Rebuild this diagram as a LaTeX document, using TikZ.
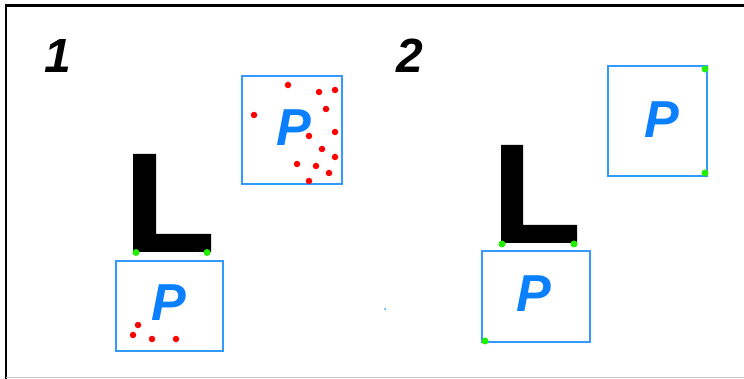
\documentclass[tikz,border=0pt]{standalone}
\usepackage{fontspec}
\setmainfont{Liberation Sans}
\definecolor{boxblue}{HTML}{3399FF}
\definecolor{pblue}{HTML}{0A80FF}
\definecolor{dotred}{HTML}{FF0000}
\definecolor{dotgreen}{HTML}{22EE00}
\tikzset{
  pbox/.style={draw=boxblue, line width=1.8pt, fill=none, inner sep=0pt},
  pletter/.style={text=pblue, inner sep=0pt, font=\fontsize{52}{52}\selectfont\bfseries\itshape},
  numlabel/.style={text=black, inner sep=0pt, font=\fontsize{48}{48}\selectfont\bfseries\itshape},
  reddot/.style={circle, fill=dotred, inner sep=0pt, minimum size=6.5pt},
  greendot/.style={circle, fill=dotgreen, inner sep=0pt, minimum size=7pt},
  lshape/.style={fill=black, draw=none}
}
\begin{document}
\begin{tikzpicture}[x=1pt,y=-1pt]
\useasboundingbox (0,0) rectangle (744,379);
\fill[white] (0,0) rectangle (744,379);
% frame
\draw[black, line width=2.6pt] (5,5.5) -- (744,5.5);
\draw[black, line width=1.8pt] (6,5) -- (6,379);
\draw[black!22, line width=1pt] (6,377.5) -- (744,377.5);

% labels
\node[numlabel] (n1) at (58,56) {1};
\node[numlabel] (n2) at (410,56) {2};

% ===== Part 1 =====
\fill[lshape] (133,154) -- (156,154) -- (156,234) -- (211,234) -- (211,252) -- (133,252) -- cycle;
\node[greendot] (g1a) at (136,252.5) {};
\node[greendot] (g1b) at (207,252.5) {};

\node[pbox, minimum width=107pt, minimum height=90pt] (b1) at (169.5,306) {};
\node[pletter] (p1) at (169,302.5) {P};
\foreach \x/\y in {138/325, 133/335, 152/339, 176/339}
  \node[reddot] at (\x,\y) {};

\node[pbox, minimum width=100pt, minimum height=108pt] (b2) at (292,130) {};
\node[pletter] (p2) at (294,128) {P};
\foreach \x/\y in {288/85, 319/92, 335/90, 254/115, 326/109, 309/136, 335/132, 322/149, 335/157, 297/164, 316/166, 329/173, 309/181}
  \node[reddot] at (\x,\y) {};

% ===== Part 2 =====
\fill[lshape] (501,145) -- (523,145) -- (523,225) -- (577,225) -- (577,243) -- (501,243) -- cycle;
\node[greendot] (g2a) at (502,244) {};
\node[greendot] (g2b) at (574,244) {};

\node[pbox, minimum width=108pt, minimum height=91pt] (b3) at (536,296.5) {};
\node[pletter] (p3) at (534,293.5) {P};
\node[greendot] (g3) at (485,341) {};

\node[pbox, minimum width=99pt, minimum height=110pt] (b4) at (657.5,121) {};
\node[pletter] (p4) at (662,120) {P};
\node[greendot] (g4a) at (705,69) {};
\node[greendot] (g4b) at (705,173) {};

% stray dot
\fill[boxblue] (385,309) circle (1pt);
\end{tikzpicture}
\end{document}
